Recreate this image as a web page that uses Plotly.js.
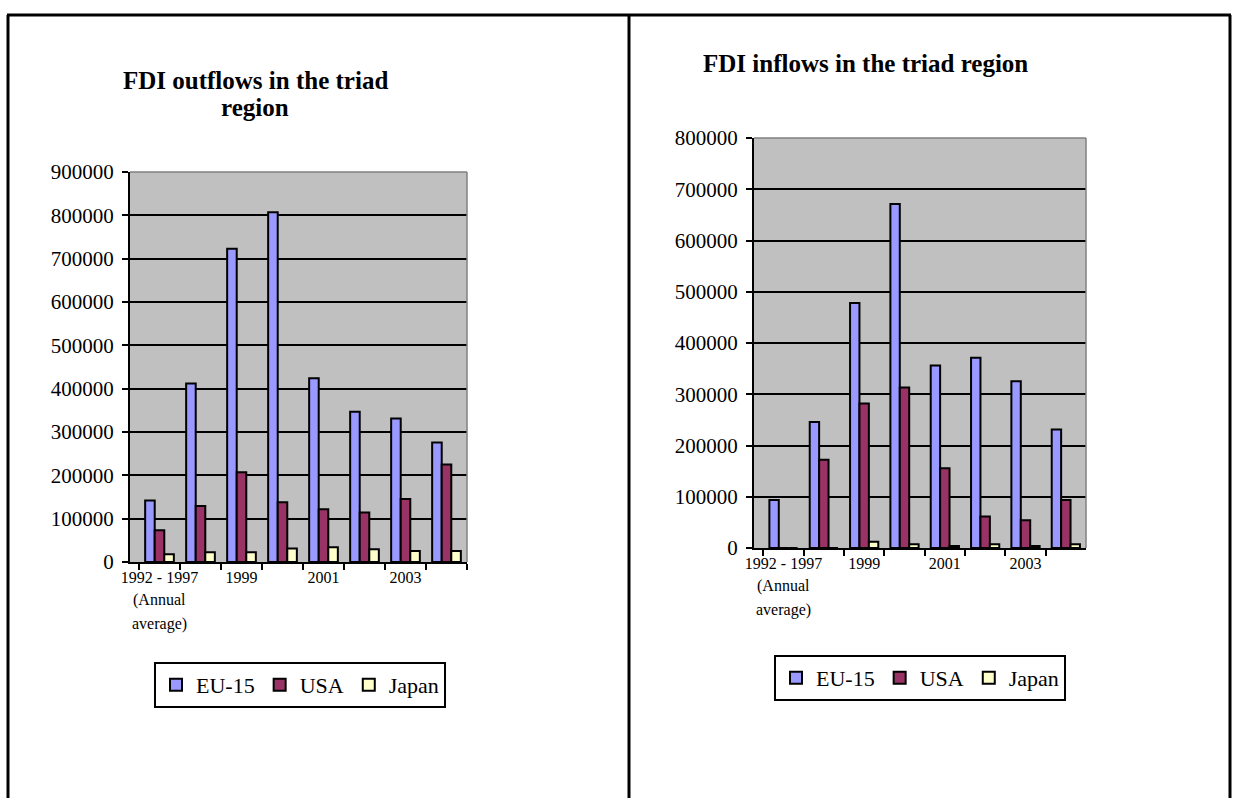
<!DOCTYPE html>
<html>
<head>
<meta charset="utf-8">
<script src="https://cdn.plot.ly/plotly-3.0.1.min.js"></script>
<style>html,body{margin:0;padding:0;background:#fff;}#chart{width:1234px;height:798px;}</style>
</head>
<body>
<div id="chart"></div>
<script>
// ---- data ----
const categories = ["1992 - 1997", "1998", "1999", "2000", "2001", "2002", "2003", "2004"];
const tickLabels = ["1992 - 1997", "", "1999", "", "2001", "", "2003", ""];
const firstLabelExtra = ["(Annual", "average)"];
const seriesNames = ["EU-15", "USA", "Japan"];
// FDI outflows
const outEU    = [142000, 412000, 723000, 807000, 424000, 347000, 331000, 276000];
const outUSA   = [73500, 129000, 207000, 138000, 122000, 114000, 145500, 225000];
const outJapan = [18000, 22500, 22500, 31000, 34000, 29500, 25500, 25500];
// FDI inflows
const inEU     = [93500, 245700, 478000, 671000, 356000, 371000, 325500, 231000];
const inUSA    = [0, 172000, 282000, 313000, 155500, 61500, 54000, 93500];
const inJapan  = [0, 0, 12000, 7500, 4000, 7500, 4000, 7500];
const titleLeft = ["FDI outflows in the triad", "region"];
const titleRight = "FDI inflows in the triad region";

const colors = ["#9999ff", "#993366", "#ffffcc"];
const serif = "Liberation Serif, Times New Roman, serif";

function bar(name, y, i, xa, ya, leg) {
  return {
    type: "bar", name: name, x: categories, y: y, xaxis: xa, yaxis: ya, legend: leg,
    marker: {color: colors[i], line: {color: "#000", width: 2}},
    hoverinfo: "x+y+name"
  };
}

const data = [
  bar(seriesNames[0], outEU, 0, "x", "y", "legend"),
  bar(seriesNames[1], outUSA, 1, "x", "y", "legend"),
  bar(seriesNames[2], outJapan, 2, "x", "y", "legend"),
  bar(seriesNames[0], inEU, 0, "x2", "y2", "legend2"),
  bar(seriesNames[1], inUSA, 1, "x2", "y2", "legend2"),
  bar(seriesNames[2], inJapan, 2, "x2", "y2", "legend2")
];

const W = 1234, H = 798;
const px = v => v / W, py = v => (H - v) / H;

function xAxis(dom, anchor) {
  return {
    domain: dom, anchor: anchor, type: "category",
    tickmode: "array", tickvals: categories, ticktext: tickLabels,
    tickson: "boundaries", ticks: "outside", ticklen: 6, tickwidth: 2, tickcolor: "#000",
    showline: true, linecolor: "#000", linewidth: 2, showgrid: false, zeroline: false,
    tickangle: 0, tickfont: {family: serif, size: 16, color: "#000"}, fixedrange: true
  };
}
function yAxis(dom, anchor, maxv) {
  return {
    domain: dom, anchor: anchor, range: [0, maxv], dtick: 100000, tick0: 0,
    tickformat: "d", ticks: "outside", ticklen: 6, tickwidth: 2, tickcolor: "#000",
    showline: true, linecolor: "#000", linewidth: 2, ticklabelstandoff: 4,
    showgrid: true, gridcolor: "#000", gridwidth: 2, zeroline: false,
    tickfont: {family: serif, size: 21, color: "#000"}, fixedrange: true
  };
}

const legendCommon = {
  orientation: "h", xanchor: "center", yanchor: "top",
  bgcolor: "#fff", bordercolor: "#000", borderwidth: 2,
  font: {family: serif, size: 22, color: "#000"}, traceorder: "normal", itemwidth: 30
};

const frame = {type: "line", xref: "paper", yref: "paper", line: {color: "#000", width: 3}};
function edge(xr, yr, x0, y0, x1, y1) {
  return {type: "line", xref: xr, yref: yr, x0: x0, y0: y0, x1: x1, y1: y1,
          line: {color: "#808080", width: 1.5}, layer: "above"};
}
function txt(text, xr, x, y, size, bold) {
  return {text: bold ? "<b>" + text + "</b>" : text, xref: xr, yref: "paper", x: x, y: y,
          xanchor: "center", yanchor: "middle", showarrow: false,
          font: {family: serif, size: size, color: "#000"}};
}

const layout = {
  width: W, height: H, autosize: false,
  margin: {l: 0, r: 0, t: 0, b: 0},
  paper_bgcolor: "#fff", plot_bgcolor: "#c0c0c0",
  barmode: "group", bargap: 0.3, bargroupgap: 0,
  xaxis: xAxis([px(130), px(467)], "y"),
  yaxis: yAxis([py(562), py(172)], "x", 900000),
  xaxis2: xAxis([px(754), px(1086)], "y2"),
  yaxis2: yAxis([py(548), py(138)], "x2", 800000),
  legend: Object.assign({x: px(300), y: py(662)}, legendCommon),
  legend2: Object.assign({x: px(920), y: py(655)}, legendCommon),
  annotations: [
    txt(titleLeft[0], "paper", px(255), py(80), 25, true),
    txt(titleLeft[1], "paper", px(255), py(107), 25, true),
    txt(titleRight, "paper", px(866), py(63), 25, true),
    txt(firstLabelExtra[0], "x", categories[0], py(600), 16, false),
    txt(firstLabelExtra[1], "x", categories[0], py(624), 16, false),
    txt(firstLabelExtra[0], "x2", categories[0], py(586), 16, false),
    txt(firstLabelExtra[1], "x2", categories[0], py(610), 16, false)
  ],
  shapes: [
    Object.assign({x0: px(7), x1: px(1231), y0: py(15), y1: py(15)}, frame),
    Object.assign({x0: px(8), x1: px(8), y0: 0, y1: py(15)}, frame),
    Object.assign({x0: px(629), x1: px(629), y0: 0, y1: py(15)}, frame),
    Object.assign({x0: px(1230), x1: px(1230), y0: 0, y1: py(15)}, frame),
    edge("x domain", "y domain", 0, 1, 1, 1),
    edge("x domain", "y domain", 1, 0, 1, 1),
    edge("x2 domain", "y2 domain", 0, 1, 1, 1),
    edge("x2 domain", "y2 domain", 1, 0, 1, 1)
  ],
  showlegend: true
};

Plotly.newPlot("chart", data, layout, {staticPlot: true, displayModeBar: false});
</script>
</body>
</html>
